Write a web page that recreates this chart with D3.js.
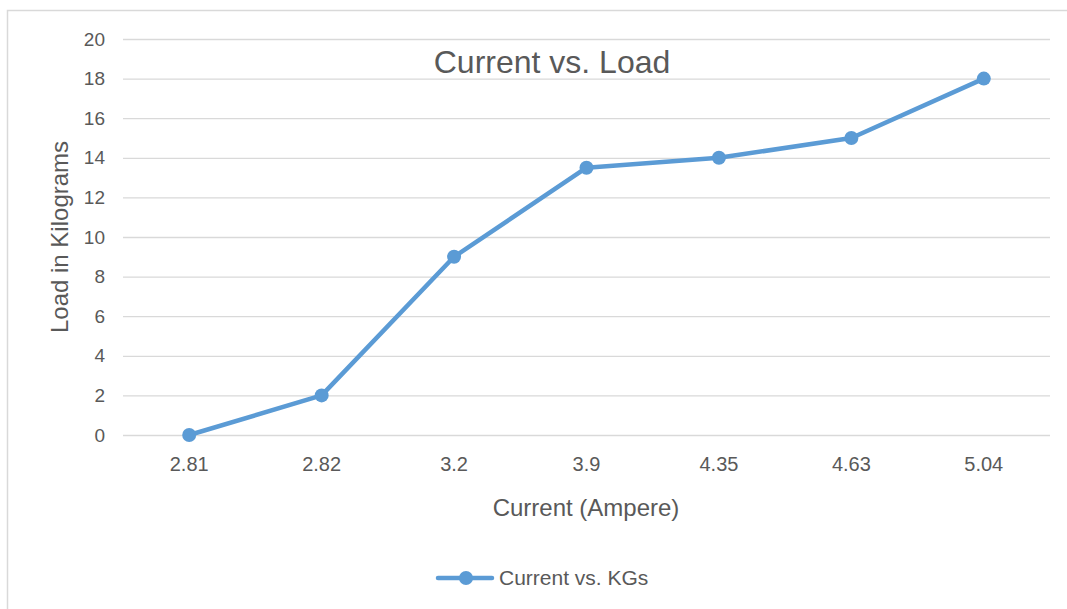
<!DOCTYPE html>
<html><head><meta charset="utf-8">
<script src="https://cdn.jsdelivr.net/npm/d3@7"></script>
<style>body{margin:0;background:#fff;}svg{display:block;font-family:"Liberation Sans",Arial,sans-serif;}</style>
</head><body>
<script>
const categories = ["2.81","2.82","3.2","3.9","4.35","4.63","5.04"];
const loadValues = [0,2,9,13.5,14,15,18];
const yTicks = [0,2,4,6,8,10,12,14,16,18,20];
const seriesName = "Current vs. KGs";
const titleText = "Current vs. Load";
const xTitle = "Current (Ampere)";
const yTitle = "Load in Kilograms";

(function(){
const W=1067,H=609;
const svg=d3.select("body").append("svg").attr("width",W).attr("height",H);
svg.append("rect").attr("x",7.5).attr("y",10.5).attr("width",1080).attr("height",620)
  .attr("fill","#fff").attr("stroke","#d9d9d9").attr("stroke-width",1.5);

const pl=123,pr=1050,pt=39,pb=435;
const x=d3.scaleBand().domain(categories).range([pl,pr]);
const y=d3.scaleLinear().domain([0,20]).range([pb,pt]);
const col="#5B9BD5", txt="#595959";
const ff="Liberation Sans, Arial, sans-serif";

const gy=svg.append("g").attr("transform",`translate(${pl},0)`)
  .call(d3.axisLeft(y).tickValues(yTicks).tickSize(-(pr-pl)).tickPadding(18));
gy.select(".domain").remove();
gy.selectAll(".tick line").attr("stroke","#d9d9d9").attr("stroke-width",1.3);
gy.selectAll(".tick text").attr("fill",txt).attr("font-size",19).attr("font-family",ff);

const gx=svg.append("g").attr("transform",`translate(0,${pb})`)
  .call(d3.axisBottom(x).tickSize(0).tickPadding(22));
gx.select(".domain").remove();
gx.selectAll(".tick text").attr("fill",txt).attr("font-size",20).attr("font-family",ff);

const pts=categories.map((c,i)=>[x(c)+x.bandwidth()/2,y(loadValues[i])]);
svg.append("path").attr("d",d3.line()(pts)).attr("fill","none").attr("stroke",col)
  .attr("stroke-width",4.5).attr("stroke-linejoin","round").attr("stroke-linecap","round");
svg.selectAll("circle.pt").data(pts).enter().append("circle").attr("class","pt")
  .attr("cx",d=>d[0]).attr("cy",d=>d[1]).attr("r",7).attr("fill",col);

svg.append("text").attr("x",552).attr("y",73).attr("text-anchor","middle")
  .attr("font-size",32).attr("fill",txt).text(titleText);
svg.append("text").attr("x",586).attr("y",516).attr("text-anchor","middle")
  .attr("font-size",24).attr("fill",txt).text(xTitle);
svg.append("text").attr("transform","translate(68,237) rotate(-90)").attr("text-anchor","middle")
  .attr("font-size",24).attr("fill",txt).text(yTitle);

svg.append("line").attr("x1",438).attr("x2",492).attr("y1",578).attr("y2",578)
  .attr("stroke",col).attr("stroke-width",4.5).attr("stroke-linecap","round");
svg.append("circle").attr("cx",466).attr("cy",578).attr("r",7).attr("fill",col);
svg.append("text").attr("x",499).attr("y",585).attr("font-size",21).attr("fill",txt).text(seriesName);
})();
</script>
</body></html>
